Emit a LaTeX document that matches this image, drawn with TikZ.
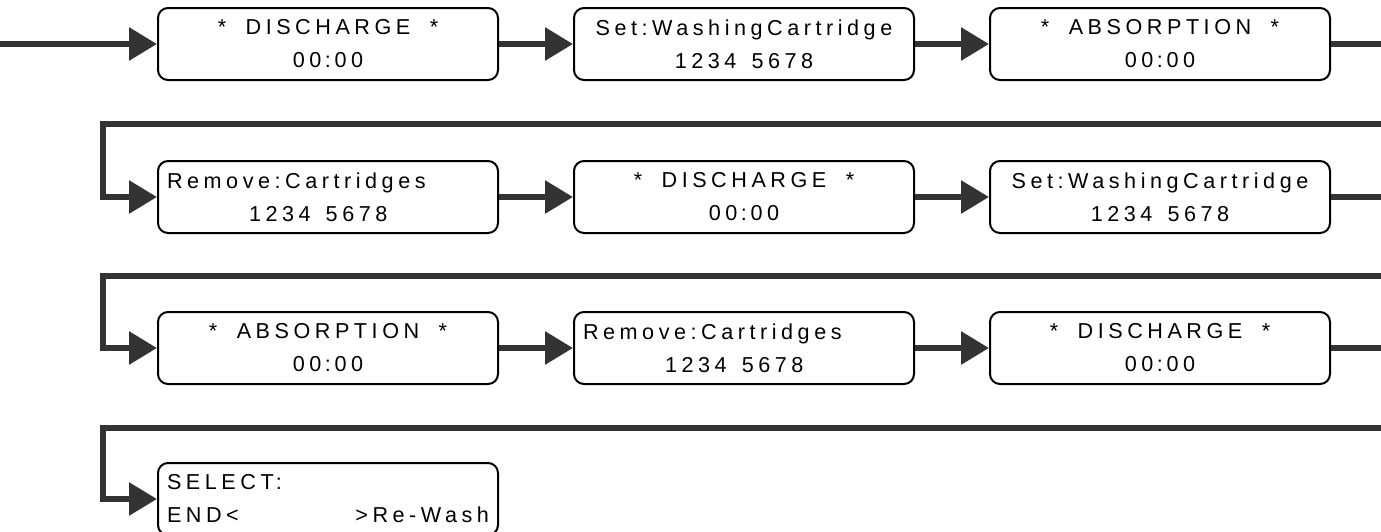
\documentclass[tikz,border=0pt]{standalone}
\usepackage{fontspec}
\newfontfamily\lcdfont[LetterSpace=21]{Liberation Sans}
\usetikzlibrary{arrows.meta,positioning}
\definecolor{linkgray}{HTML}{333333}
\newcommand{\gap}{\hspace{0.7em}}
\newcommand{\stargap}{\hspace{0.9em}}
\newcommand{\clock}{00\,:\,00}
\tikzset{
lcd/.style={draw,line width=1pt,rounded corners=5pt,minimum width=170pt,minimum height=36pt,inner sep=4pt,font=\lcdfont\fontsize{10.8}{16.5}\selectfont,align=center},
lcdleft/.style={lcd,align=left,text width=161pt},
link/.style={-{Triangle[length=14pt,width=16pt]},line width=3pt,draw=linkgray}
}
\begin{document}
\begin{tikzpicture}[x=0.5pt,y=-0.5pt]
\useasboundingbox (0,0) rectangle (1381,531);

% row 1
\node[lcd] (r1c1) at (328,44) {*\stargap DISCHARGE\stargap *\\\clock};
\node[lcd] (r1c2) at (744,44) {Set:WashingCartridge\\1234\gap 5678};
\node[lcd] (r1c3) at (1160,44) {*\stargap ABSORPTION\stargap *\\\clock};
% row 2
\node[lcdleft] (r2c1) at (328,197) {Remove:Cartridges\\\hspace*{41pt}1234\gap 5678};
\node[lcd] (r2c2) at (744,197) {*\stargap DISCHARGE\stargap *\\\clock};
\node[lcd] (r2c3) at (1160,197) {Set:WashingCartridge\\1234\gap 5678};
% row 3
\node[lcd] (r3c1) at (328,348) {*\stargap ABSORPTION\stargap *\\\clock};
\node[lcdleft] (r3c2) at (744,348) {Remove:Cartridges\\\hspace*{41pt}1234\gap 5678};
\node[lcd] (r3c3) at (1160,348) {*\stargap DISCHARGE\stargap *\\\clock};
% row 4
\node[lcdleft] (r4c1) at (328,499) {SELECT:\\END<\hfill>Re-Wash};

\coordinate (start) at (0,44);
\coordinate (t1) at (1383.5,124);
\coordinate (b1) at (103,124);
\coordinate (t2) at (1383.5,276);
\coordinate (b2) at (103,276);
\coordinate (t3) at (1383.5,428);
\coordinate (b3) at (103,428);

\draw[link] (start) -- (r1c1);
\draw[link] (r1c1) -- (r1c2);
\draw[link] (r1c2) -- (r1c3);
\draw[link] (r1c3.east) -| (t1) -- (b1) |- (r2c1.west);
\draw[link] (r2c1) -- (r2c2);
\draw[link] (r2c2) -- (r2c3);
\draw[link] (r2c3.east) -| (t2) -- (b2) |- (r3c1.west);
\draw[link] (r3c1) -- (r3c2);
\draw[link] (r3c2) -- (r3c3);
\draw[link] (r3c3.east) -| (t3) -- (b3) |- (r4c1.west);
\end{tikzpicture}
\end{document}
